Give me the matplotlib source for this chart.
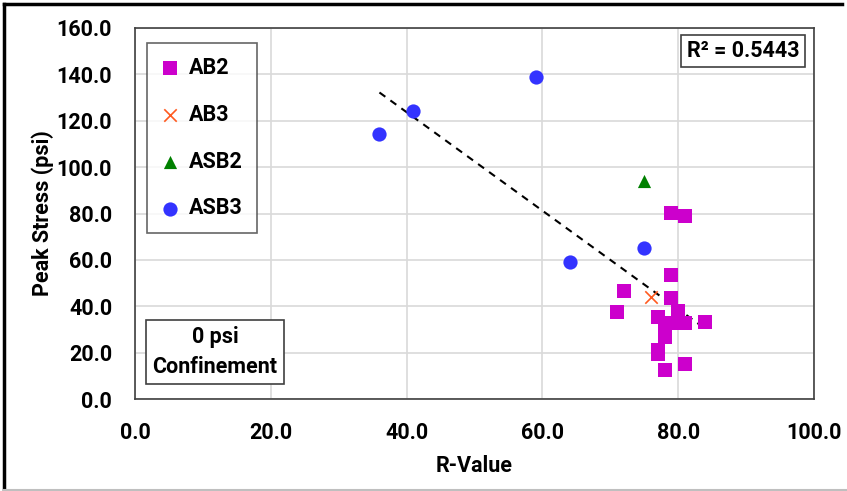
import numpy as np
import matplotlib
matplotlib.use("Agg")
import matplotlib.pyplot as plt
from matplotlib.lines import Line2D

plt.rcParams['font.family'] = ['Roboto', 'DejaVu Sans']
plt.rcParams['font.weight'] = 'bold'

# Data
ab2_x = [79, 81, 79, 72, 79, 71, 77, 80, 81, 79, 78, 78, 77, 77, 78, 81, 84]
ab2_y = [80.3, 79.0, 53.5, 46.5, 43.4, 37.4, 35.5, 37.9, 32.6, 32.6, 30.5, 26.9, 21.1, 19.3, 12.5, 15.0, 33.3]
ab3_x = [76]
ab3_y = [44.0]
asb2_x = [75]
asb2_y = [94.0]
asb3_x = [36, 41, 59, 64, 75]
asb3_y = [114.1, 124.2, 138.7, 59.0, 65.1]
r2_text = "R² = 0.5443"
x_ticks = [0, 20, 40, 60, 80, 100]
y_ticks = [0, 20, 40, 60, 80, 100, 120, 140, 160]

FS = 15.5

fig = plt.figure(figsize=(8.47, 4.91), dpi=100)
ax = fig.add_axes([135/847, 92/491, 679/847, 371/491])

ax.set_xlim(0, 100)
ax.set_ylim(0, 160)
ax.set_xticks(x_ticks)
ax.set_yticks(y_ticks)
ax.set_xticklabels([f"{v:.1f}" for v in x_ticks])
ax.set_yticklabels([f"{v:.1f}" for v in y_ticks])
ax.tick_params(axis='x', length=0, labelsize=FS, pad=16.5)
ax.tick_params(axis='y', length=0, labelsize=FS, pad=16.5)
for lbl in ax.get_xticklabels() + ax.get_yticklabels():
    lbl.set_fontweight('bold')
ax.grid(True, color='#D9D9D9', linewidth=1.2)
ax.set_axisbelow(True)
for s in ax.spines.values():
    s.set_color('#404040')
    s.set_linewidth(1.2)

ax.set_xlabel("R-Value", fontsize=FS, fontweight='bold', labelpad=8)
ax.set_ylabel("Peak Stress (psi)", fontsize=FS, fontweight='bold', labelpad=2)

# trendline (all data)
all_x = np.array(ab2_x + ab3_x + asb2_x + asb3_x, dtype=float)
all_y = np.array(ab2_y + ab3_y + asb2_y + asb3_y, dtype=float)
m, b = np.polyfit(all_x, all_y, 1)
tx = np.array([all_x.min(), all_x.max()])
ax.plot(tx, m * tx + b, linestyle=(0, (3.5, 3)), color='black', linewidth=1.5, zorder=3)

ax.scatter(ab2_x, ab2_y, marker='s', s=95, color='#CC00CC', zorder=4, label='AB2', linewidths=0)
ax.scatter(ab3_x, ab3_y, marker='x', s=80, color='#FF5A1F', zorder=5, label='AB3', linewidths=1.2)
ax.scatter(asb2_x, asb2_y, marker='^', s=90, color='#008000', zorder=4, label='ASB2', linewidths=0)
ax.scatter(asb3_x, asb3_y, marker='o', s=105, color='#3333FF', zorder=4, label='ASB3', linewidths=0)

leg = ax.legend(loc='upper left', bbox_to_anchor=(12/679, (399-43)/371), borderaxespad=0,
                fontsize=FS, frameon=True, fancybox=False, edgecolor='#404040',
                labelspacing=1.15, handlelength=0.8, handletextpad=0.5,
                borderpad=0.65, scatterpoints=1)
leg.get_frame().set_linewidth(1.2)
for t in leg.get_texts():
    t.set_fontweight('bold')

fig.text(743/847, 1 - 51/491, r2_text, ha='center', va='center', fontsize=FS, fontweight='bold',
         bbox=dict(boxstyle='square,pad=0.25', facecolor='white', edgecolor='#404040', linewidth=1.2))
fig.text(215/847, 1 - 352/491, "0 psi\nConfinement", ha='center', va='center', fontsize=FS,
         fontweight='bold', linespacing=1.45,
         bbox=dict(boxstyle='square,pad=0.28', facecolor='white', edgecolor='#404040', linewidth=1.2))

# outer frame
fig.add_artist(Line2D([4/847, 4/847], [1 - 490/491, 1 - 4/491], transform=fig.transFigure, color='black', linewidth=2.5))
fig.add_artist(Line2D([4/847, 842/847], [1 - 4/491, 1 - 4/491], transform=fig.transFigure, color='black', linewidth=2.5))
fig.add_artist(Line2D([4/847, 847/847], [1 - 489.5/491, 1 - 489.5/491], transform=fig.transFigure, color='#BFBFBF', linewidth=1.5))

fig.savefig("out.png", dpi=100)
